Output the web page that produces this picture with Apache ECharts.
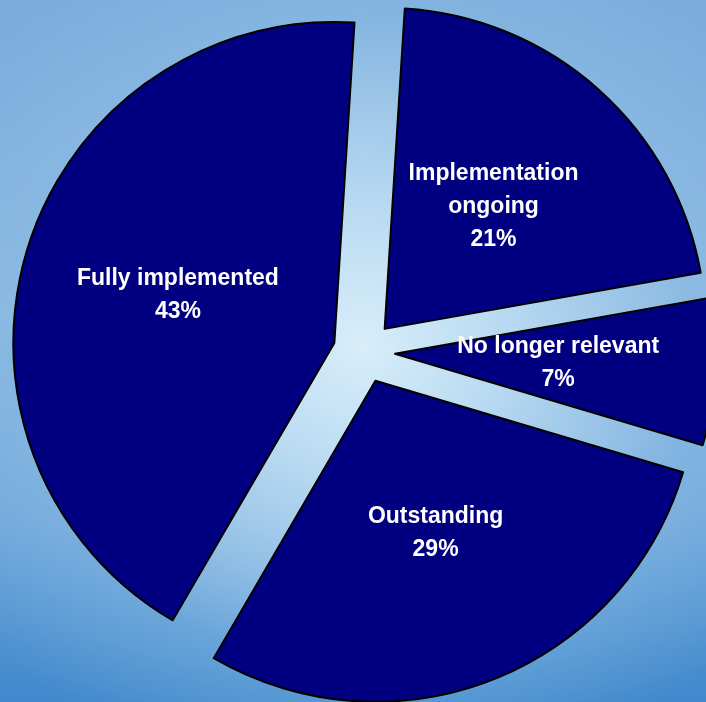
<!DOCTYPE html>
<html>
<head>
<meta charset="utf-8">
<script src="https://cdn.jsdelivr.net/npm/echarts@6/dist/echarts.min.js"></script>
<style>
html,body{margin:0;padding:0;}
#chart{width:706px;height:702px;
background:
 radial-gradient(circle at 362px 345px, rgba(216,238,250,1) 0px, rgba(200,228,246,0.85) 120px, rgba(150,196,232,0.35) 330px, rgba(120,170,220,0) 470px),
 linear-gradient(to bottom, #7aacdc 0%, #86b6e0 45%, #6ea6da 75%, #3f88cc 100%);
}
</style>
</head>
<body>
<div id="chart"></div>
<script>
var categories = ["Implementation ongoing", "No longer relevant", "Outstanding", "Fully implemented"];
var labelTexts = ["Implementation\nongoing", "No longer relevant", "Outstanding", "Fully implemented"];
var values = [21.2, 7.4, 28.8, 42.6];
var percentLabels = ["21%", "7%", "29%", "43%"];

var data = categories.map(function(c, i){
  return {name: c, value: values[i], selected: true,
    label: {formatter: labelTexts[i] + "\n" + percentLabels[i]}};
});

var chart = echarts.init(document.getElementById('chart'), null, {renderer:'canvas'});
chart.setOption({
  backgroundColor: 'transparent',
  animation: false,
  series: [{
    type: 'pie',
    center: [364, 352],
    radius: [0, 321],
    startAngle: 86.4,
    clockwise: true,
    selectedMode: 'multiple',
    selectedOffset: 31,
    avoidLabelOverlap: false,
    data: data,
    itemStyle: {color: '#000080', borderColor: '#000000', borderWidth: 2},
    label: {show: true, position: 'inside', color: '#ffffff', fontFamily: 'Liberation Sans, Arial, sans-serif',
      fontWeight: 'bold', fontSize: 23, lineHeight: 33, align: 'center'},
    labelLine: {show: false},
    emphasis: {disabled: true},
    select: {itemStyle: {color: '#000080', borderColor: '#000000', borderWidth: 2}, label: {color:'#ffffff'}}
  }]
});
</script>
</body>
</html>
